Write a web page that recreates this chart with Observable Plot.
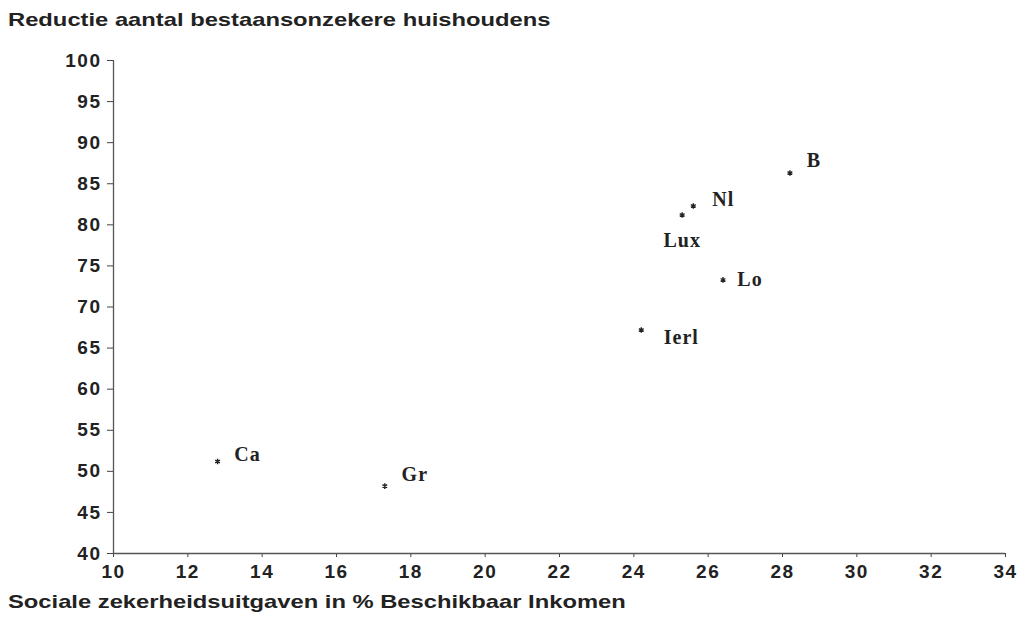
<!DOCTYPE html>
<html>
<head>
<meta charset="utf-8">
<script src="https://cdn.jsdelivr.net/npm/d3@7"></script>
<script src="https://cdn.jsdelivr.net/npm/@observablehq/plot@0.6"></script>
<style>
  body { margin: 0; background: #fff; width: 1026px; height: 622px; overflow: hidden; position: relative; }
  .txt { position: absolute; font-family: "Liberation Sans", Arial, sans-serif; font-weight: bold; color: #222; white-space: nowrap; transform-origin: left top; }
  #title { left: 8px; top: 9px; font-size: 19px; transform: scaleX(1.25); }
  #caption { left: 8px; top: 591px; font-size: 19px; transform: scaleX(1.25); }
  #chart { position: absolute; left: 0; top: 30px; }
  #chart svg [aria-label="y-axis tick label"] text,
  #chart svg [aria-label="x-axis tick label"] text { letter-spacing: 1.5px; }
  #chart svg [aria-label="text"] text { letter-spacing: 1px; }
</style>
</head>
<body>
<div id="title" class="txt">Reductie aantal bestaansonzekere huishoudens</div>
<div id="chart"></div>
<div id="caption" class="txt">Sociale zekerheidsuitgaven in % Beschikbaar Inkomen</div>
<script>
// Data
const countries = ["B", "Nl", "Lux", "Lo", "Ierl", "Ca", "Gr"];
const spending = [28.2, 25.6, 25.3, 26.4, 24.2, 12.8, 17.3];
const reduction = [86.3, 82.3, 81.2, 73.3, 67.2, 51.2, 48.2];
const xTicks = [10, 12, 14, 16, 18, 20, 22, 24, 26, 28, 30, 32, 34];
const yTicks = [40, 45, 50, 55, 60, 65, 70, 75, 80, 85, 90, 95, 100];

const data = countries.map((c, i) => ({country: c, x: spending[i], y: reduction[i]}));

// label placement (style, not data)
const offsets = {
  B:    {dx: 24, dy: -12},
  Nl:   {dx: 30, dy: -6},
  Lux:  {dx: 0,  dy: 26},
  Lo:   {dx: 27, dy: 0},
  Ierl: {dx: 40, dy: 8},
  Ca:   {dx: 30, dy: -7},
  Gr:   {dx: 30, dy: -12}
};

const labelMarks = countries.map(c => Plot.text(data.filter(d => d.country === c), {
  x: "x", y: "y", text: "country",
  dx: offsets[c].dx, dy: offsets[c].dy, textAnchor: "middle",
  fontFamily: "Liberation Serif, Times New Roman, serif",
  fontWeight: "bold", fontSize: 20, fill: "#222"
}));

const chart = Plot.plot({
  width: 1026,
  height: 562,
  marginLeft: 113,
  marginRight: 21,
  marginTop: 30,
  marginBottom: 39,
  x: {domain: [10, 34], ticks: xTicks, label: null},
  y: {domain: [40, 100], ticks: yTicks, label: null},
  style: {fontFamily: "Liberation Sans, Arial, sans-serif", color: "#222", background: "#fff"},
  marks: [
    Plot.axisY({ticks: yTicks, tickSize: 6, tickPadding: 6, fontSize: 19, fontWeight: "bold", label: null, stroke: "#444"}),
    Plot.axisX({ticks: xTicks, tickSize: 4, tickPadding: 7, fontSize: 19, fontWeight: "bold", label: null, stroke: "#444"}),
    Plot.ruleX([10], {stroke: "#555", strokeWidth: 1.3}),
    Plot.ruleY([40], {stroke: "#555", strokeWidth: 1.3}),
    Plot.dot(data, {x: "x", y: "y", symbol: "asterisk", r: 2.6, stroke: "#222", strokeWidth: 1.4}),
    ...labelMarks
  ]
});
document.getElementById("chart").appendChild(chart);
</script>
</body>
</html>
